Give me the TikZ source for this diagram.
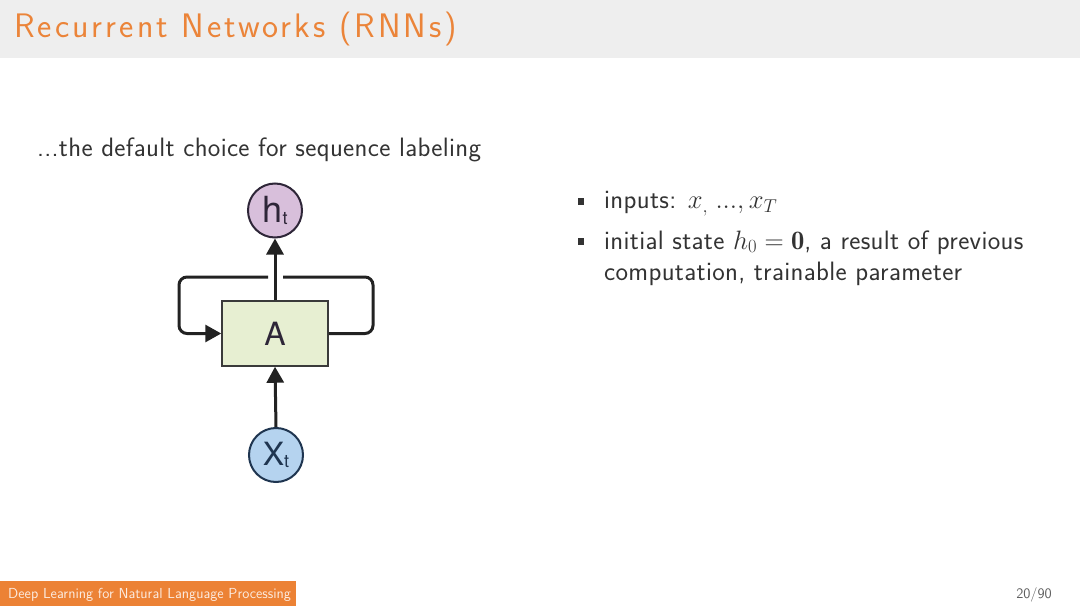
\documentclass[tikz,border=0pt]{standalone}
\usepackage{fix-cm}
\usepackage{amsmath}
\usepackage{fontspec}
\newfontfamily\helv{TeX Gyre Heros}
\newfontfamily\titlesans[LetterSpace=9]{Latin Modern Sans}
\newfontfamily\bodysans[LetterSpace=1.2]{Latin Modern Sans}
\usetikzlibrary{arrows.meta}
\definecolor{titleorange}{HTML}{EB8439}
\definecolor{headgray}{HTML}{EEEEEE}
\definecolor{footorange}{HTML}{EC8235}
\definecolor{bodytext}{HTML}{333333}
\definecolor{hfill}{HTML}{D8BFDB}
\definecolor{hborder}{HTML}{2E2638}
\definecolor{xfill}{HTML}{B5D3EF}
\definecolor{xborder}{HTML}{1F3550}
\definecolor{afill}{HTML}{E7EFD2}
\definecolor{aborder}{HTML}{3A3A3A}
\definecolor{conncol}{HTML}{222222}
\tikzset{
  bodyfont/.style={font=\bodysans\fontsize{26.6}{31}\selectfont, text=bodytext, inner sep=0pt},
  conn/.style={draw=conncol, line width=3pt, rounded corners=8pt},
  tip/.style={-{Triangle[length=16pt,width=17pt]}},
  statecircle/.style={circle, line width=2pt, minimum size=54pt, inner sep=0pt},
  bulletsq/.style={fill=bodytext, minimum size=6.5pt, inner sep=0pt, rectangle},
}
\begin{document}
\begin{tikzpicture}[x=1pt,y=-1pt]
\useasboundingbox (0,0) rectangle (1080,607);
\fill[headgray] (0,0) rectangle (1080,58);
\node[anchor=base west, inner sep=0pt, text=titleorange, font=\titlesans\fontsize{34}{40}\selectfont] (title) at (14,38) {Recurrent Networks (RNNs)};

\node[bodyfont, anchor=base west] (intro) at (37,157) {...the default choice for sequence labeling};

% diagram
\node[statecircle, draw=hborder, fill=hfill] (h) at (275,210.5)
  {\helv\color{hborder}\fontsize{36}{36}\selectfont h\raisebox{-2pt}{\fontsize{18}{18}\selectfont t}};
\node[draw=aborder, fill=afill, line width=1.5pt, minimum width=106pt, minimum height=65pt, inner sep=0pt] (A) at (275,333.5)
  {\helv\color{hborder}\fontsize{32}{32}\selectfont A};
\node[statecircle, draw=xborder, fill=xfill] (x) at (276,455)
  {\helv\color{xborder}\fontsize{32}{32}\selectfont X\raisebox{-2pt}{\fontsize{18}{18}\selectfont t}};

\coordinate (r1) at (373,333.5);
\coordinate (r2) at (373,277);
\coordinate (gapr) at (283,277);
\coordinate (gapl) at (268,277);
\coordinate (l1) at (179,277);
\coordinate (l2) at (179,333.5);

\draw[conn] (A.east) -- (r1) -- (r2) -- (gapr);
\draw[conn, tip] (gapl) -- (l1) -- (l2) -- (A.west);
\draw[conn, tip] (A.north) -- (h.south);
\draw[conn, tip] (x.north) -- (A.south);

% bullets
\node[bulletsq] (b1) at (581,201.5) {};
\node[bulletsq] (b2) at (581,241.5) {};
\node[bodyfont, anchor=base west] (t1) at (604,209) {inputs: $x_{,}\;..., x_T$};
\node[bodyfont, anchor=base west] (t2) at (604,249) {initial state $h_0=\mathbf{0}$, a result of previous};
\node[bodyfont, anchor=base west] (t3) at (604,280) {computation, trainable parameter};

% footer
\fill[footorange] (0,581) rectangle (296,606);
\node[anchor=base west, inner sep=0pt, text=white!85!footorange, font=\sffamily\fontsize{14.5}{16}\selectfont] (foot) at (8,598) {Deep Learning for Natural Language Processing};
\node[anchor=base east, inner sep=0pt, text=bodytext!80, font=\sffamily\fontsize{14.5}{16}\selectfont] (page) at (1052,598) {20/90};
\end{tikzpicture}
\end{document}
